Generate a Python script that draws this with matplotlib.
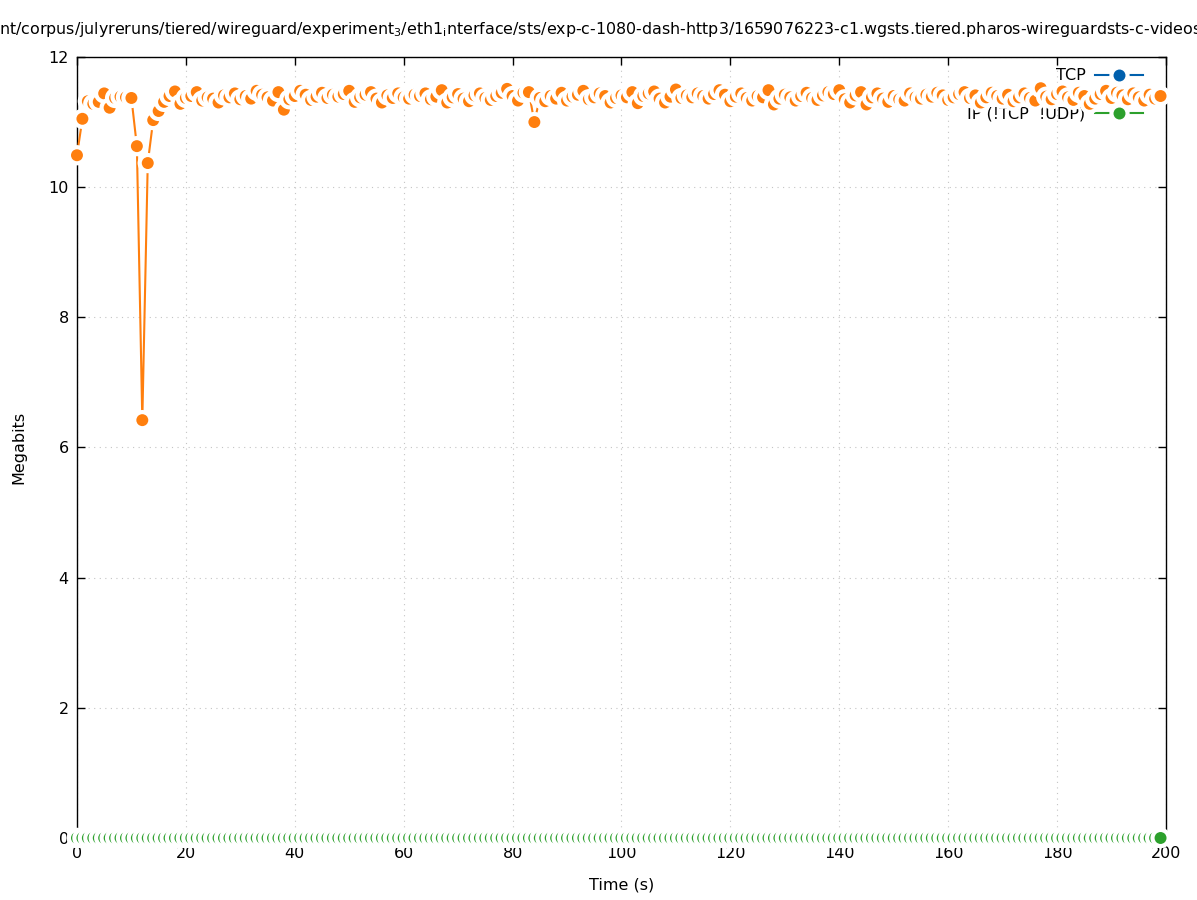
import numpy as np
import matplotlib
matplotlib.use("Agg")
import matplotlib.pyplot as plt
from matplotlib.lines import Line2D
from matplotlib.legend_handler import HandlerTuple

# time axis, one sample per second
time_s = list(range(200))

# UDP throughput (Megabits)
udp_mbit = [
    10.49, 11.05, 11.32, 11.28, 11.31, 11.44, 11.22, 11.37, 11.39, 11.38,
    11.37, 10.63, 6.42, 10.37, 11.03, 11.17, 11.31, 11.40, 11.47, 11.28,
    11.37, 11.40, 11.46, 11.33, 11.38, 11.36, 11.30, 11.41, 11.38, 11.44,
    11.35, 11.40, 11.36, 11.48, 11.42, 11.38, 11.33, 11.46, 11.19, 11.35,
    11.40, 11.48, 11.42, 11.34, 11.39, 11.45, 11.37, 11.42, 11.39, 11.43,
    11.48, 11.31, 11.38, 11.42, 11.46, 11.36, 11.30, 11.41, 11.37, 11.44,
    11.38, 11.36, 11.42, 11.40, 11.44, 11.35, 11.39, 11.49, 11.30, 11.38,
    11.43, 11.36, 11.32, 11.41, 11.44, 11.37, 11.34, 11.40, 11.45, 11.51,
    11.40, 11.33, 11.45, 11.46, 11.00, 11.37, 11.32, 11.40, 11.36, 11.45,
    11.33, 11.39, 11.42, 11.48, 11.35, 11.38, 11.44, 11.40, 11.30, 11.37,
    11.41, 11.38, 11.46, 11.29, 11.40, 11.44, 11.47, 11.36, 11.30, 11.39,
    11.50, 11.37, 11.41, 11.38, 11.44, 11.40, 11.36, 11.43, 11.49, 11.42,
    11.32, 11.39, 11.44, 11.37, 11.33, 11.40, 11.38, 11.49, 11.27, 11.36,
    11.42, 11.38, 11.33, 11.40, 11.45, 11.37, 11.34, 11.41, 11.46, 11.43,
    11.49, 11.35, 11.30, 11.41, 11.46, 11.27, 11.38, 11.44, 11.36, 11.31,
    11.40, 11.35, 11.33, 11.44, 11.38, 11.36, 11.42, 11.39, 11.45, 11.41,
    11.34, 11.38, 11.43, 11.46, 11.37, 11.41, 11.30, 11.38, 11.45, 11.40,
    11.36, 11.42, 11.32, 11.38, 11.44, 11.37, 11.33, 11.52, 11.39, 11.35,
    11.43, 11.47, 11.38, 11.34, 11.45, 11.40, 11.28, 11.36, 11.43, 11.48,
    11.37, 11.45, 11.41, 11.35, 11.44, 11.38, 11.33, 11.42, 11.36, 11.40,
]
tcp_mbit = [0.0] * 200
other_mbit = [0.0] * 200

labels = ["TCP", "UDP", "IP (!TCP  !UDP)"]
colors = ["#0060ad", "#ff7f0e", "#2ca02c"]

title = ("nt/corpus/julyreruns/tiered/wireguard/experiment$_3$/eth1$_{\\rm i}$nterface"
         "/sts/exp-c-1080-dash-http3/1659076223-c1.wgsts.tiered.pharos-wireguardsts-c-videos")

DOT = 8.6    # marker diameter, points
HALO = 14.6  # white gap around each marker

plt.rcParams["font.family"] = "DejaVu Sans"
plt.rcParams["font.size"] = 11.5

fig = plt.figure(figsize=(11.97, 9.0), dpi=100)
ax = fig.add_axes([0.0643, 0.0689, 0.9098, 0.8678])


def draw_series(x, y, color, z):
    # gnuplot-like linespoints: each point gets a white halo drawn just before it
    ax.plot(x, y, color=color, lw=1.5, zorder=z, clip_on=False)
    xs = np.repeat(x, 2)
    ys = np.repeat(y, 2)
    sizes = np.tile([HALO ** 2, DOT ** 2], len(x))
    cols = [c for _ in x for c in ("white", color)]
    ax.scatter(xs, ys, s=sizes, c=cols, linewidths=0, zorder=z, clip_on=False)


for i, series in enumerate([tcp_mbit, udp_mbit, other_mbit]):
    draw_series(time_s, series, colors[i], 3 + i)

handles = []
for c in colors:
    handles.append((Line2D([], [], color=c, lw=1.5),
                    Line2D([], [], ls="none", marker="o", ms=HALO, mfc="white", mec="none"),
                    Line2D([], [], ls="none", marker="o", ms=DOT, mfc=c, mec="none")))
leg = ax.legend(handles, labels, loc="upper right", frameon=False, markerfirst=False,
                handlelength=3.0, handletextpad=0.6, labelspacing=0.25,
                borderaxespad=0.5, bbox_to_anchor=(0.992, 1.004),
                handler_map={tuple: HandlerTuple(ndivide=1)})
leg.set_zorder(1)

ax.set_xlim(0, 200)
ax.set_ylim(0, 12)
ax.set_xticks(range(0, 201, 20))
ax.set_yticks(range(0, 13, 2))
ax.tick_params(direction="in", top=True, right=True, length=6, width=1, pad=6)
ax.grid(True, ls=(0, (1, 4)), color="#c4c4c4", lw=0.8)
ax.set_axisbelow(True)
for sp in ax.spines.values():
    sp.set_linewidth(1)
    sp.set_zorder(2.5)

ax.set_xlabel("Time (s)", labelpad=12)
ax.set_ylabel("Megabits", labelpad=16)

fig.text(-0.001, 0.967, title, ha="left", va="center", fontsize=11.45)

fig.savefig("out.png", dpi=100)
